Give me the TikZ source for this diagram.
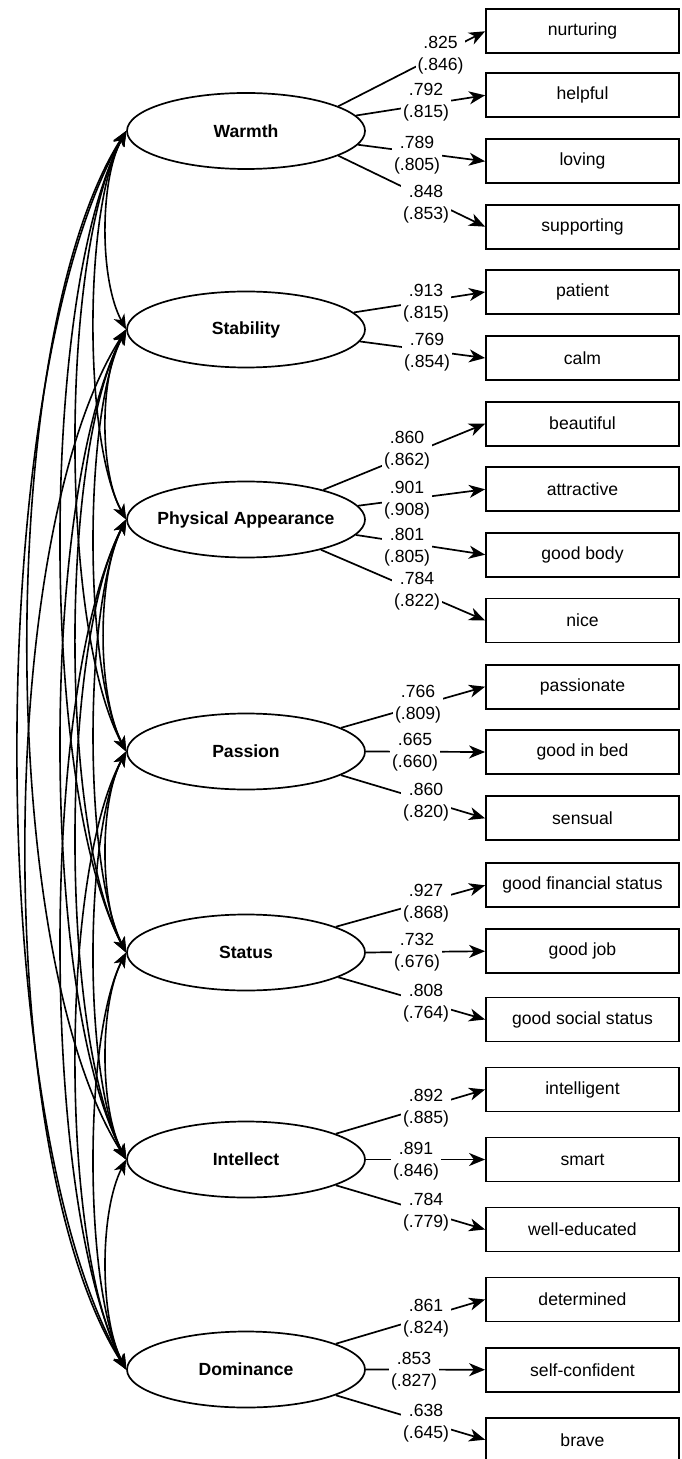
\documentclass[tikz,border=0pt]{standalone}
\usepackage{fontspec}
\setmainfont{Liberation Sans}
\usetikzlibrary{arrows.meta,shapes.geometric}

% factor names keep the ellipse size fixed by minimum width/height
\newcommand\fname[1]{\makebox[0pt]{#1}}
% covariance between two factors: curve bulging to the left of both ellipses
\newcommand\covpath[4]{\draw[cov] (#1.west) .. controls +(-#3,#4) and +(-#3,-#4) .. (#2.west);}

\tikzset{
  txt/.style={font=\fontsize{8.8}{11}\selectfont},
  latent/.style={draw, ellipse, line width=0.85pt, minimum width=119pt,
    minimum height=38pt, inner sep=0pt, font=\fontsize{8.8}{11}\selectfont\bfseries},
  item/.style={draw, rectangle, line width=0.9pt, minimum width=96.5pt,
    minimum height=22pt, inner sep=0pt, txt},
  load/.style={line width=0.85pt, -{Stealth[length=8pt,width=6.5pt,inset=2.4pt]}},
  cov/.style={line width=0.8pt,
    {Stealth[length=7.5pt,width=6pt,inset=2.2pt]}-{Stealth[length=7.5pt,width=6pt,inset=2.2pt]}},
  coef/.style={fill=white, align=center, inner sep=1pt, txt},
}

\begin{document}
\begin{tikzpicture}[x=0.5pt,y=-0.5pt]
\useasboundingbox (0,0) rectangle (681,1459);

% latent factors
\node[latent] (warm) at (246,131)    {\fname{Warmth}};
\node[latent] (stab) at (246,329.5)  {\fname{Stability}};
\node[latent] (phys) at (246,519.5)  {\fname{Physical Appearance}};
\node[latent] (pass) at (246,751.5)  {\fname{Passion}};
\node[latent] (stat) at (246,952.5)  {\fname{Status}};
\node[latent] (intl) at (246,1159.5) {\fname{Intellect}};
\node[latent] (domi) at (246,1369.5) {\fname{Dominance}};

% observed items
\node[item] (nurt) at (582.5,31.3)   {nurturing};
\node[item] (help) at (582.5,95.3)   {helpful};
\node[item] (lovi) at (582.5,161.3)  {loving};
\node[item] (supp) at (582.5,226.7)  {supporting};
\node[item] (pati) at (582.5,292)    {patient};
\node[item] (calm) at (582.5,358)    {calm};
\node[item] (beau) at (582.5,423.7)  {beautiful};
\node[item] (attr) at (582.5,489.3)  {attractive};
\node[item] (body) at (582.5,554.7)  {good body};
\node[item] (nice) at (582.5,620.5)  {nice};
\node[item] (pasn) at (582.5,686.7)  {passionate};
\node[item] (bed)  at (582.5,752)    {good in bed};
\node[item] (sens) at (582.5,818.3)  {sensual};
\node[item] (fina) at (582.5,885.3)  {good financial status};
\node[item] (job)  at (582.5,951.2)  {good job};
\node[item] (soci) at (582.5,1019.5) {good social status};
\node[item] (inte) at (582.5,1089.5) {intelligent};
\node[item] (smar) at (582.5,1159.5) {smart};
\node[item] (educ) at (582.5,1229.5) {well-educated};
\node[item] (dete) at (582.5,1299.5) {determined};
\node[item] (conf) at (582.5,1369.7) {self-confident};
\node[item] (brav) at (582.5,1439.7) {brave};

% factor loadings
\draw[load] (warm.15.5)  -- (nurt.west);
\draw[load] (warm.8.3)   -- (help.west);
\draw[load] (warm.-7.6)  -- (lovi.west);
\draw[load] (warm.-15.5) -- (supp.west);
\draw[load] (stab.9)     -- (pati.west);
\draw[load] (stab.-6.4)  -- (calm.west);
\draw[load] (phys.21.6)  -- (beau.west);
\draw[load] (phys.7.4)   -- (attr.west);
\draw[load] (phys.-8.5)  -- (body.west);
\draw[load] (phys.-22.8) -- (nice.west);
\draw[load] (pass.14.9)  -- (pasn.west);
\draw[load] (pass.0)     -- (bed.west);
\draw[load] (pass.-14.9) -- (sens.west);
\draw[load] (stat.16)    -- (fina.west);
\draw[load] (stat.0)     -- (job.west);
\draw[load] (stat.-15)   -- (soci.west);
\draw[load] (intl.16.4)  -- (inte.west);
\draw[load] (intl.0)     -- (smar.west);
\draw[load] (intl.-16.4) -- (educ.west);
\draw[load] (domi.16.4)  -- (dete.west);
\draw[load] (domi.0)     -- (conf.west);
\draw[load] (domi.-16.4) -- (brav.west);

% standardized loadings (two groups)
\node[coef] (k01) at (440.5,55)    {.825\\(.846)};
\node[coef] (k02) at (426,102.5)   {.792\\(.815)};
\node[coef] (k03) at (417,155)     {.789\\(.805)};
\node[coef] (k04) at (426,204)     {.848\\(.853)};
\node[coef] (k05) at (426,303)     {.913\\(.815)};
\node[coef] (k06) at (427,352.5)   {.769\\(.854)};
\node[coef] (k07) at (407,450)     {.860\\(.862)};
\node[coef] (k08) at (407,500.5)   {.901\\(.908)};
\node[coef] (k09) at (407,547.5)   {.801\\(.805)};
\node[coef] (k10) at (417,591)     {.784\\(.822)};
\node[coef] (k11) at (418,704)     {.766\\(.809)};
\node[coef] (k12) at (415,752.5)   {.665\\(.660)};
\node[coef] (k13) at (426,802.5)   {.860\\(.820)};
\node[coef] (k14) at (426,903.5)   {.927\\(.868)};
\node[coef] (k15) at (417,952.5)   {.732\\(.676)};
\node[coef] (k16) at (426,1003.5)  {.808\\(.764)};
\node[coef] (k17) at (426,1108)    {.892\\(.885)};
\node[coef] (k18) at (416,1161)    {.891\\(.846)};
\node[coef] (k19) at (426,1212.5)  {.784\\(.779)};
\node[coef] (k20) at (426,1318.5)  {.861\\(.824)};
\node[coef] (k21) at (414,1371)    {.853\\(.827)};
\node[coef] (k22) at (426,1423)    {.638\\(.645)};

% factor covariances
\covpath{warm}{stab}{26.7}{49.6}
\covpath{stab}{phys}{26.7}{47.5}
\covpath{phys}{pass}{29.3}{58}
\covpath{pass}{stat}{26.7}{50.2}
\covpath{stat}{intl}{26.7}{51.7}
\covpath{intl}{domi}{26.7}{52.5}

\covpath{warm}{phys}{42.7}{77.7}
\covpath{stab}{pass}{42.7}{84.4}
\covpath{phys}{stat}{42.7}{86.6}
\covpath{pass}{intl}{42.7}{81.6}
\covpath{stat}{domi}{42.7}{83.4}

\covpath{warm}{pass}{66.7}{124}
\covpath{stab}{stat}{66.7}{124.6}
\covpath{phys}{intl}{66.7}{128}
\covpath{pass}{domi}{66.7}{123.6}

\covpath{warm}{stat}{86.7}{164}
\covpath{stab}{intl}{86.7}{166}
\covpath{phys}{domi}{86.7}{170}

\covpath{warm}{intl}{130.7}{205.7}
\covpath{stab}{domi}{133.3}{208}

\covpath{warm}{domi}{144}{247.7}
\end{tikzpicture}
\end{document}
